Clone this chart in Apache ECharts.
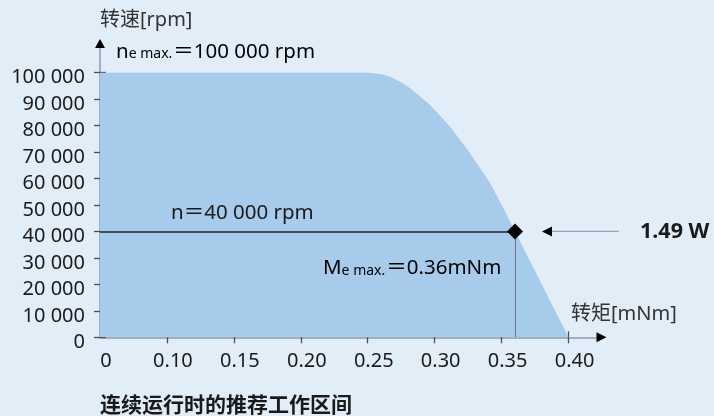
<!DOCTYPE html>
<html><head><meta charset="utf-8">
<script src="https://cdn.jsdelivr.net/npm/echarts@6/dist/echarts.min.js"></script>
<style>html,body{margin:0;padding:0;background:#e1edf7}#c{width:714px;height:416px}</style>
</head><body><div id="c"></div>
<script>
// Torque [mNm]. The axis is broken: its origin sits at 0.05 and is labelled "0".
const torque = [0.05, 0.250, 0.2593, 0.2667, 0.2742, 0.2817, 0.2966, 0.3116, 0.3265, 0.3415, 0.3514, 0.36, 0.40];
// Speed [rpm]
const speed  = [100000, 100000, 99500, 98500, 96600, 94100, 87800, 79600, 69500, 58200, 48750, 40000, 0];
const xTickValues = [0.10, 0.15, 0.20, 0.25, 0.30, 0.35, 0.40];
const xLabelValues = [0.05, 0.10, 0.15, 0.20, 0.25, 0.30, 0.35, 0.40];
const yTickValues = [0, 10000, 20000, 30000, 40000, 50000, 60000, 70000, 80000, 90000, 100000];
const opPoint = [0.36, 40000];
const powerLabel = '1.49 W';
const xName = '转矩[mNm]';
const yName = '转速[rpm]';
const title = '连续运行时的推荐工作区间';

const FONT = "'Noto Sans','Noto Sans CJK SC',sans-serif";
const TXT = '#1a1a1a';
const fmtY = v => v === 0 ? '0' : (v/1000) + ' 000';
const fmtX = v => v < 0.06 ? '0' : v.toFixed(2);

const chart = echarts.init(document.getElementById('c'), null, {renderer:'canvas'});
const xMin = 0.05, xMax = 0.425, yMin = 0, yMax = 111000;
const tickStyle = {color: '#4a4f55', width: 1.3};
chart.setOption({
  backgroundColor: '#e1edf7',
  animation: false,
  grid: {left: 100, right: 112, top: 43.6, bottom: 78.7, containLabel: false},
  xAxis: [{
    type: 'value', min: xMin, max: xMax, interval: 0.05,
    axisLine: {show: true, onZero: false, lineStyle: {color: '#8d9aa6', width: 1.5}},
    axisTick: {show: true, inside: false, length: 6, customValues: xTickValues, lineStyle: tickStyle},
    axisLabel: {customValues: xLabelValues, formatter: fmtX, color: TXT, fontSize: 20, fontFamily: FONT, margin: 14, padding: [0,0,0,12]},
    splitLine: {show: false}
  }, {
    type: 'value', min: xMin, max: xMax, position: 'bottom', gridIndex: 0,
    axisLine: {show: false},
    axisTick: {show: true, inside: true, length: 6, customValues: xTickValues, lineStyle: tickStyle},
    axisLabel: {show: false}, splitLine: {show: false}
  }],
  yAxis: [{
    type: 'value', min: yMin, max: yMax, interval: 10000,
    axisLine: {show: true, onZero: false, lineStyle: {color: '#8d9aa6', width: 1.5}},
    axisTick: {show: true, inside: false, length: 6, customValues: yTickValues, lineStyle: tickStyle},
    axisLabel: {customValues: yTickValues, formatter: fmtY, color: TXT, fontSize: 20, fontFamily: FONT, margin: 15,
      verticalAlign: 'top', lineHeight: 10},
    splitLine: {show: false}
  }, {
    type: 'value', min: yMin, max: yMax, position: 'left',
    axisLine: {show: false},
    axisTick: {show: true, inside: true, length: 6, customValues: yTickValues, lineStyle: tickStyle},
    axisLabel: {show: false}, splitLine: {show: false}
  }],
  series: [{
    type: 'line', xAxisIndex: 0, yAxisIndex: 0,
    data: torque.map((t, i) => [t, speed[i]]),
    symbol: 'none', lineStyle: {width: 0}, smooth: false,
    areaStyle: {color: '#a6cbeb', opacity: 1},
    z: 1,
    markLine: {
      silent: true, symbol: ['none', 'none'], label: {show: false}, animation: false,
      data: [
        [{coord: [xMin, opPoint[1]], lineStyle: {color: '#3e4a55', width: 2, type: 'solid'}},
         {coord: opPoint}],
        [{coord: opPoint, lineStyle: {color: '#6b7580', width: 1, type: 'solid'}},
         {coord: [opPoint[0], 0]}]
      ]
    },
    markPoint: {
      silent: true, animation: false,
      data: [{coord: opPoint, symbol: 'diamond', symbolSize: [16, 16], itemStyle: {color: '#000'}, label: {show: false}}]
    }
  }]
});

const p = chart.convertToPixel({xAxisIndex: 0, yAxisIndex: 0}, opPoint);
const o = chart.convertToPixel({xAxisIndex: 0, yAxisIndex: 0}, [xMin, 0]);
const e = chart.convertToPixel({xAxisIndex: 0, yAxisIndex: 0}, [xMax, yMax]);
const yTop = chart.convertToPixel({yAxisIndex: 0}, 100000);
const big = {fontSize: 20.5, fontFamily: FONT, color: TXT};
const small = {fontSize: 14, fontFamily: FONT, color: TXT, verticalAlign: 'bottom', padding: [0, 1, 1, 0]};
chart.setOption({
  graphic: [
    // axis arrows
    {type: 'polygon', z: 100, shape: {points: [[o[0], e[1] - 4.5], [o[0] - 5, e[1] + 4.5], [o[0] + 5, e[1] + 4.5]]}, style: {fill: '#000'}},
    {type: 'polygon', z: 100, shape: {points: [[e[0] + 4.5, o[1]], [e[0] - 5.5, o[1] - 5], [e[0] - 5.5, o[1] + 5]]}, style: {fill: '#000'}},
    {type: 'text', z: 100, x: 100, y: 20, style: {text: yName, font: '20px ' + FONT, fill: '#333', verticalAlign: 'middle'}},
    {type: 'text', z: 100, x: 571, y: 314, style: {text: xName, font: '20px ' + FONT, fill: '#333', verticalAlign: 'middle'}},
    {type: 'text', z: 100, x: 116, y: yTop - 21, style: {
      text: '{a|n}{b|e max.}{a|＝100 000 rpm}', verticalAlign: 'middle',
      rich: {a: big, b: small}}},
    {type: 'text', z: 100, x: 171, y: p[1] - 18, style: {text: 'n＝40 000 rpm', font: '20.5px ' + FONT, fill: TXT, verticalAlign: 'middle'}},
    {type: 'text', z: 100, x: 323, y: p[1] + 37, style: {
      text: '{a|M}{b|e max.}{a|＝0.36mNm}', verticalAlign: 'middle',
      rich: {a: big, b: small}}},
    {type: 'polygon', z: 100, shape: {points: [[p[0] + 27, p[1]], [p[0] + 37, p[1] - 5], [p[0] + 37, p[1] + 5]]}, style: {fill: '#000'}},
    {type: 'line', z: 100, shape: {x1: p[0] + 37, y1: p[1], x2: p[0] + 104, y2: p[1]}, style: {stroke: '#9aa7b3', lineWidth: 1.2}},
    {type: 'text', z: 100, x: 640, y: p[1], style: {text: powerLabel, font: 'bold 21.5px ' + FONT, fill: TXT, verticalAlign: 'middle'}},
    {type: 'text', z: 100, x: 100, y: 406, style: {text: title, font: 'bold 21px ' + FONT, fill: TXT, verticalAlign: 'middle'}}
  ]
});
</script></body></html>
